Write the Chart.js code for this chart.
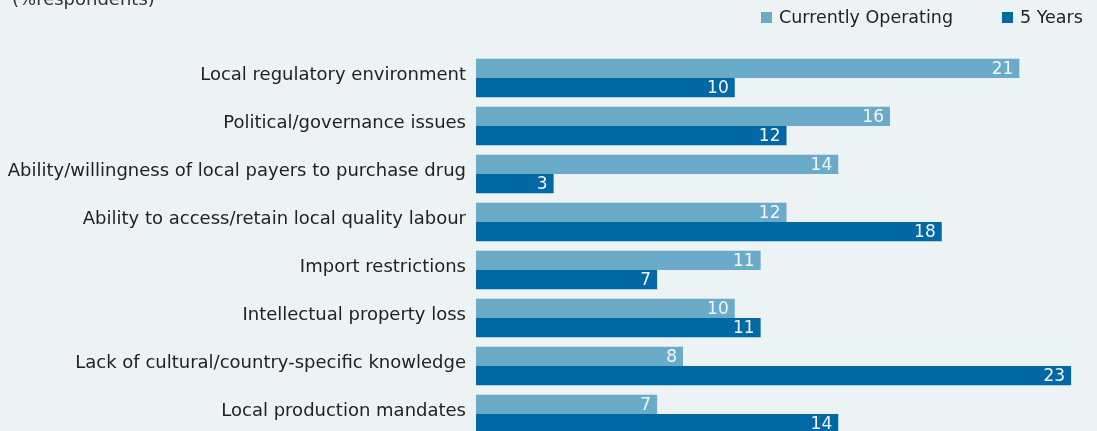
<!DOCTYPE html>
<html lang="en">

<head>
  <meta charset="UTF-8" />
  <title>barriers to operating</title>
  <script src="https://cdn.jsdelivr.net/npm/chart.js@4.4.0/dist/chart.umd.min.js"></script>
</head>
<style>
  html, body {
    margin: 0;
    padding: 0;
    background: #edf2f5;
    overflow: hidden;
  }
  #wrap {
    position: relative;
    width: 1097px;
    height: 438px;
  }
</style>

<body>
  <div id="wrap">
    <canvas id="myChart"></canvas>
  </div>

  <script>
    const categories = [
      'Local regulatory environment',
      'Political/governance issues',
      'Ability/willingness of local payers to purchase drug',
      'Ability to access/retain local quality labour',
      'Import restrictions',
      'Intellectual property loss',
      'Lack of cultural/country-specific knowledge',
      'Local production mandates'
    ];
    const currentlyOperating = [21, 16, 14, 12, 11, 10, 8, 7];
    const fiveYears = [10, 12, 3, 18, 7, 11, 23, 14];
    const seriesNames = ['Currently Operating', '5 Years'];
    const unitNote = '(%respondents)';

    const FONT = "'DejaVu Sans', sans-serif";
    const LIGHT = '#6aabc9';
    const DARK = '#0068a5';

    // white numbers at the end of each bar
    const barValues = {
      id: 'barValues',
      afterDatasetsDraw(chart) {
        const ctx = chart.ctx;
        ctx.save();
        ctx.font = '17px ' + FONT;
        ctx.fillStyle = '#f3f7fa';
        ctx.textAlign = 'right';
        ctx.textBaseline = 'middle';
        chart.data.datasets.forEach((ds, i) => {
          chart.getDatasetMeta(i).data.forEach((bar, j) => {
            ctx.fillText(ds.data[j], bar.x - 6, bar.y + 1);
          });
        });
        ctx.restore();
      }
    };

    // legend in the top right and the unit note in the top left
    const header = {
      id: 'header',
      afterDraw(chart) {
        const ctx = chart.ctx;
        ctx.save();
        ctx.font = '18px ' + FONT;
        ctx.textBaseline = 'alphabetic';
        ctx.fillStyle = '#333';
        ctx.fillText(unitNote, 12, 5);

        ctx.font = '17.5px ' + FONT;
        const items = [
          { x: 761, color: LIGHT, text: seriesNames[0] },
          { x: 1002, color: DARK, text: seriesNames[1] }
        ];
        items.forEach(it => {
          ctx.fillStyle = it.color;
          ctx.fillRect(it.x, 12, 11, 11);
          ctx.fillStyle = '#222';
          ctx.textBaseline = 'middle';
          ctx.fillText(it.text, it.x + 18, 18);
        });
        ctx.restore();
      }
    };

    const ctx = document.getElementById('myChart').getContext('2d');
    const myChart = new Chart(ctx, {
      type: 'bar',
      data: {
        labels: categories,
        datasets: [
          {
            label: seriesNames[0],
            data: currentlyOperating,
            backgroundColor: LIGHT,
            categoryPercentage: 0.8,
            barPercentage: 1
          },
          {
            label: seriesNames[1],
            data: fiveYears,
            backgroundColor: DARK,
            categoryPercentage: 0.8,
            barPercentage: 1
          }
        ]
      },
      options: {
        indexAxis: 'y',
        responsive: true,
        maintainAspectRatio: false,
        animation: false,
        layout: { padding: { top: 54, left: 0, right: 0, bottom: 0 } },
        plugins: {
          legend: { display: false },
          tooltip: { enabled: false }
        },
        scales: {
          x: {
            display: false,
            min: 0,
            max: 24
          },
          y: {
            grid: { display: false, drawTicks: false },
            border: { display: false },
            ticks: {
              color: '#222',
              padding: 10,
              labelOffset: -3,
              font: { family: FONT, size: 18 }
            },
            afterFit(scale) {
              scale.width = 476;
              scale.paddingTop = 0;
              scale.paddingBottom = 0;
            }
          }
        }
      },
      plugins: [barValues, header]
    });
  </script>
</body>

</html>
